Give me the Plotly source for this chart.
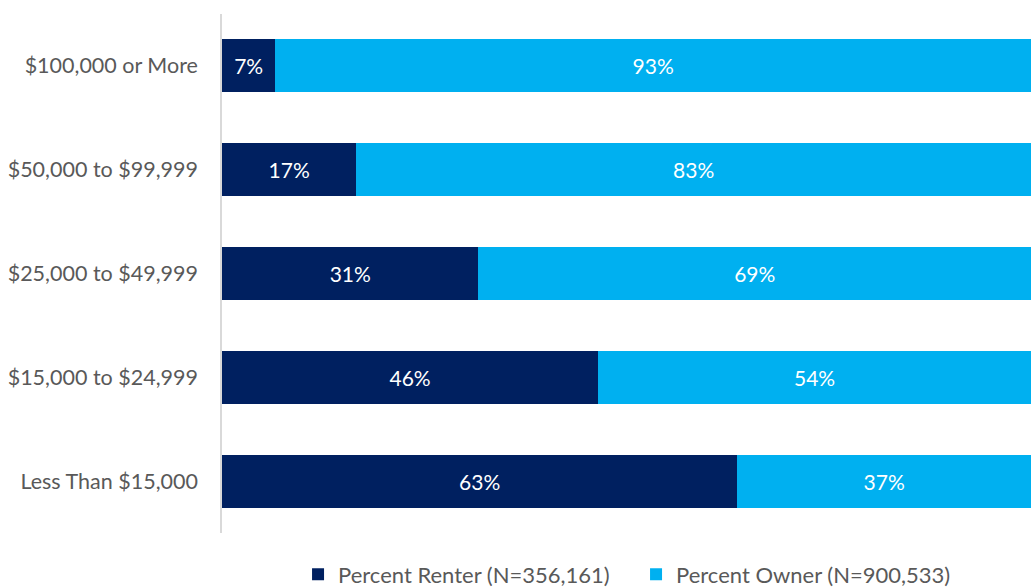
import plotly.graph_objects as go

categories = ["$100,000 or More", "$50,000 to $99,999", "$25,000 to $49,999",
              "$15,000 to $24,999", "Less Than $15,000"]
renter = [6.6, 16.6, 31.7, 46.5, 63.7]
owner = [93.4, 83.4, 68.3, 53.5, 36.3]
renter_labels = ["7%", "17%", "31%", "46%", "63%"]
owner_labels = ["93%", "83%", "69%", "54%", "37%"]
series_names = ["Percent Renter (N=356,161)", "Percent Owner (N=900,533)"]
colors = ["#002060", "#00B0F0"]

FONT = "Lato, Calibri, Carlito, sans-serif"

fig = go.Figure()
for vals, labels, name, col in [(renter, renter_labels, series_names[0], colors[0]),
                                (owner, owner_labels, series_names[1], colors[1])]:
    fig.add_trace(go.Bar(
        y=categories, x=vals, orientation="h", name=name,
        marker=dict(color=col, line=dict(width=0)),
        text=labels, textposition="inside", insidetextanchor="middle",
        textangle=0, constraintext="none",
        textfont=dict(color="white", size=21, family=FONT),
        hoverinfo="skip",
    ))

fig.update_layout(
    barmode="stack",
    bargap=0.49,
    width=1031, height=588,
    margin=dict(l=222, r=0, t=14, b=55, autoexpand=False),
    paper_bgcolor="white", plot_bgcolor="white",
    font=dict(family=FONT, color="#595959", size=22),
    showlegend=True,
    legend=dict(orientation="h", x=0.094, xanchor="left", y=-0.08, yanchor="middle",
                font=dict(size=22, color="#595959", family=FONT),
                entrywidth=293, entrywidthmode="pixels",
                traceorder="normal", itemclick=False),
    xaxis=dict(range=[0, 100], showgrid=False, showticklabels=False, zeroline=False,
               showline=False, fixedrange=True, automargin=False),
    yaxis=dict(autorange="reversed", showgrid=False, zeroline=False, showline=True,
               linecolor="#D9D9D9", linewidth=1.5, ticks="", ticklabelstandoff=18,
               automargin=False,
               tickfont=dict(size=21.5, color="#595959", family=FONT), fixedrange=True),
)

fig.write_html("out.html", config={"displayModeBar": False},
               post_script="document.body.style.margin='0';document.body.style.overflow='hidden';")
